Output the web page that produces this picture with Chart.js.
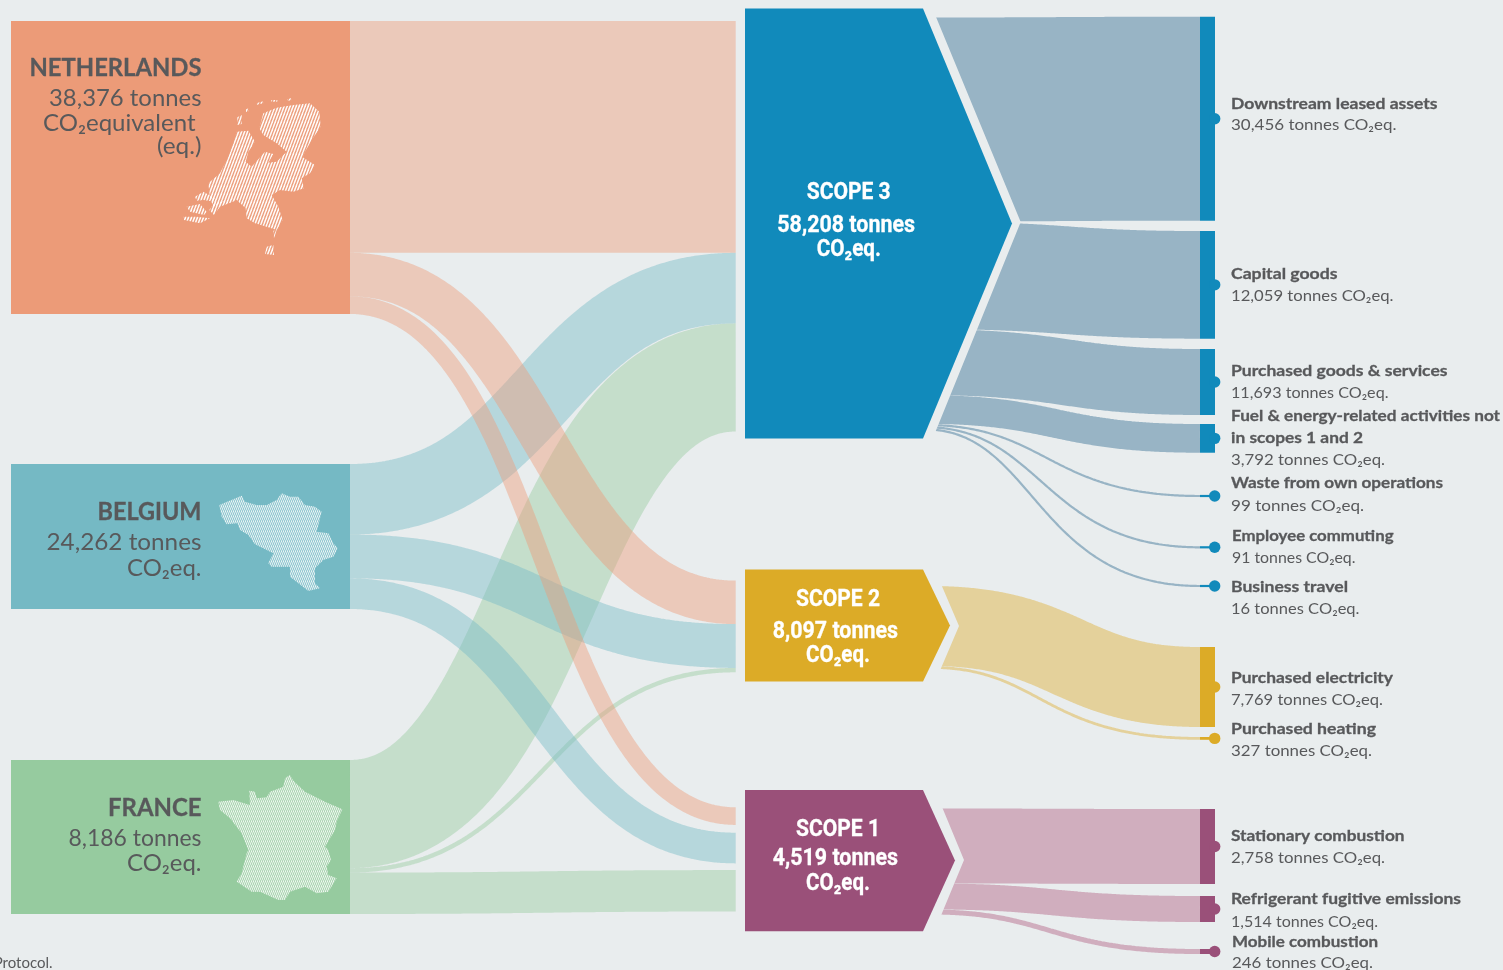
<!DOCTYPE html>
<html>
<head>
<meta charset="utf-8">
<title>Carbon footprint by country and scope</title>
<script src="https://cdn.jsdelivr.net/npm/chart.js@4"></script>
<style>
  html, body { margin: 0; padding: 0; background: #E9EDEE; overflow: hidden; }
  canvas { display: block; }
</style>
</head>
<body>
<canvas id="flows" width="1503" height="970"></canvas>
<script>
// ---- Reported figures (tonnes CO2eq.) ----
const countries = ['NETHERLANDS', 'BELGIUM', 'FRANCE'];
const countryTonnes = [38376, 24262, 8186];
const scopes = ['SCOPE 3', 'SCOPE 2', 'SCOPE 1'];
const scopeTonnes = [58208, 8097, 4519];

// Split of each country's total across scope 3, 2 and 1 (estimated)
const netherlandsFlows = [30370, 5700, 2306];
const belgiumFlows = [11800, 7330, 5132];
const franceFlows = [5750, 234, 2202];

const scope3Categories = ['Downstream leased assets', 'Capital goods', 'Purchased goods & services',
  'Fuel & energy-related activities not in scopes 1 and 2', 'Waste from own operations',
  'Employee commuting', 'Business travel'];
const scope3Values = [30456, 12059, 11693, 3792, 99, 91, 16];
const scope2Categories = ['Purchased electricity', 'Purchased heating'];
const scope2Values = [7769, 327];
const scope1Categories = ['Stationary combustion', 'Refrigerant fugitive emissions', 'Mobile combustion'];
const scope1Values = [2758, 1514, 246];

// ---- Layout: the graphic is not to a single scale, so each block has its own tonnes-per-unit ----
const countryLayout = [
  { top: 21, perUnit: 131, solid: '#EC9B78', band: 'rgba(236,155,120,0.44)', order: 1 },
  { top: 464, perUnit: 167.3, solid: '#75B9C4', band: 'rgba(117,185,196,0.43)', order: 2 },
  { top: 760, perUnit: 53.16, solid: '#96CB9F', band: 'rgba(150,203,159,0.44)', order: 3 }
];
const scopeLayout = [
  { top: 8.6, perUnit: 135.4, tip: 1012, solid: '#118ABB', band: '#98B4C5', inTop: 21, inGaps: [0, 0, 0],
    outTop: 17.5, outStart: 925, bends: [1060, 1065, 1065, 1056, 1048, 1043, 1035],
    edge: [[929, 0], [1020.7, 222], [900, 519], [900, 640]],
    tops: [16.7, 231, 349, 424, 494.9, 546.2, 584.9], perTonne: [149.3, 112, 177.2, 132, 45, 41, 7.3] },
  { top: 569.5, perUnit: 72.3, tip: 950, solid: '#DCAB27', band: '#E4D19B', inTop: 580.6, inGaps: [0, 0, 0],
    outTop: 586, outStart: 930, bends: [1068, 1042],
    edge: [[935, 570], [959, 626], [930, 694], [930, 780]],
    tops: [647, 737], perTonne: [97.1, 117] },
  { top: 790, perUnit: 32, tip: 955, solid: '#9A5079', band: '#D0AEBE', inTop: 807.3, inGaps: [0, 7.8, 6.7],
    outTop: 808.5, outStart: 930, bends: [1055, 1055, 1050],
    edge: [[935, 790], [964, 860], [935, 930], [935, 970]],
    tops: [809, 896, 949], perTonne: [36.8, 58.2, 49] }
];
const COUNTRY_X = [11, 350];
const RIBBON_X = [350, 735.7];
const RIBBON_BEND = 543;
const SCOPE_X = [745, 923];
const BAR_X = [1200, 1215];
const DOT_X = 1214.7;

// ---- Geometry helpers ----
// Samples are packed towards both ends so the butt caps stay vertical
function curve(x0, y0, x1, y1, bend) {
  const pts = [];
  const n = 100;
  for (let i = 0; i <= n; i++) {
    const t = (1 - Math.cos(Math.PI * i / n)) / 2, u = 1 - t;
    pts.push({
      x: u*u*u*x0 + 3*u*u*t*bend + 3*u*t*t*bend + t*t*t*x1,
      y: u*u*u*y0 + 3*u*u*t*y0 + 3*u*t*t*y1 + t*t*t*y1
    });
  }
  return pts;
}
const rect = (x0, x1, y0, y1) => [{x:x0,y:y0},{x:x1,y:y0},{x:x1,y:y1},{x:x0,y:y1},{x:x0,y:y0}];

// A slight tension keeps the line element on its exact path instead of per-pixel merging
const datasets = [];
const stroke = (data, width, color, order, extra) => datasets.push(Object.assign({
  data, showLine: true, pointRadius: 0, borderWidth: width, borderColor: color,
  borderCapStyle: 'butt', borderJoinStyle: 'bevel', tension: 0.01, fill: false, order
}, extra));
const polygon = (data, color, order) => datasets.push({
  data, showLine: true, pointRadius: 0, borderWidth: 0, backgroundColor: color,
  borderColor: color, tension: 0, fill: 'shape', order
});

// Country blocks and their ribbons into each scope
const countryFlows = [netherlandsFlows, belgiumFlows, franceFlows];
const inCursor = scopeLayout.map(s => s.inTop);
countryLayout.forEach((c, ci) => {
  const height = countryTonnes[ci] / c.perUnit;
  polygon(rect(COUNTRY_X[0], COUNTRY_X[1], c.top, c.top + height), c.solid, 10);
  let cursor = c.top;
  countryFlows[ci].forEach((tonnes, si) => {
    const w = tonnes / c.perUnit;
    inCursor[si] += scopeLayout[si].inGaps[ci];
    stroke(curve(RIBBON_X[0], cursor + w / 2, RIBBON_X[1], inCursor[si] + w / 2, RIBBON_BEND), w, c.band, c.order);
    cursor += w;
    inCursor[si] += w;
  });
});

// Scope arrows, outgoing ribbons, end bars and dots
const scopeValues = [scope3Values, scope2Values, scope1Values];
scopeLayout.forEach((s, si) => {
  const height = scopeTonnes[si] / s.perUnit;
  const mid = s.top + height / 2;
  polygon([
    {x:SCOPE_X[0],y:s.top},{x:SCOPE_X[1],y:s.top},{x:s.tip,y:mid},
    {x:SCOPE_X[1],y:s.top+height},{x:SCOPE_X[0],y:s.top+height},{x:SCOPE_X[0],y:s.top}
  ], s.solid, 10);
  let cursor = s.outTop;
  scopeValues[si].forEach((tonnes, i) => {
    const w = tonnes / s.perTonne[i];
    const endY = s.tops[i] + w / 2;
    stroke(curve(s.outStart, cursor + w / 2, BAR_X[0], endY, s.bends[i]), w, s.band, 5, { arrowEdge: s.edge });
    stroke([{x:BAR_X[0],y:endY},{x:BAR_X[1],y:endY}], w, s.solid, 4);
    datasets.push({
      data: [{x:DOT_X,y:endY}], showLine: false, pointRadius: 5.7,
      pointBackgroundColor: s.solid, pointBorderWidth: 0, order: 3.5
    });
    cursor += w;
  });
});

// ---- Map icons: outlines in thirds of a unit from each origin ----
const netherlandsMap = { origin: [0, 10], pattern: 'steep', parts: [
  [710,365,745,362,765,395,745,425,737,455,755,470,795,425,820,432,805,458,830,455,860,425,830,400,790,375,778,355,790,310,830,293,880,285,930,280,958,305,962,350,935,390,915,425,908,442,945,465,930,490,905,505,912,535,880,545,840,540,815,555,835,590,848,630,830,660,800,650,765,640,740,625,737,595,710,570,680,572,640,590,630,565,625,520,660,490,685,440,700,400],
  [585,560,610,545,650,568,645,575,610,570,590,572],
  [560,590,600,582,620,605,612,615,570,605],
  [550,620,590,620,630,625,600,640,552,630],
  [640,582,700,565,706,572,660,590,642,615,628,600],
  [800,710,820,705,822,735,795,732],
  [712,322,725,315,725,342,712,345],
  [820,662,830,660,822,685],
  [768,280,790,274,790,280,768,285],[814,270,832,270,832,275,814,275],[862,268,875,264,875,270,862,273],[738,298,746,295,746,304,738,306]
]};
const belgiumMap = { origin: [0, 455], pattern: 'fine', parts: [
  [658,150,725,122,735,140,770,150,800,150,830,135,845,115,870,125,895,125,915,150,945,155,965,170,950,230,985,235,1000,265,1013,280,1000,305,970,315,945,340,945,385,960,400,925,408,870,365,870,335,815,335,805,325,820,295,765,268,745,240,720,225,712,205,680,208,665,185]
]};
const franceMap = { origin: [0, 750], pattern: 'fine', parts: [
  [870,75,880,92,915,125,945,140,975,155,1027,178,1010,215,1005,240,975,290,985,300,993,330,980,350,985,375,1010,385,985,425,950,430,915,410,870,425,855,450,835,450,780,425,755,425,710,395,725,370,740,310,745,300,725,250,690,205,660,180,655,155,700,150,750,165,748,122,765,125,770,145,800,142,810,125,850,110,855,85]
]};

function hatch(w, h, alpha, lineWidth, ctx) {
  const tile = document.createElement('canvas');
  tile.width = w; tile.height = h;
  const g = tile.getContext('2d');
  g.strokeStyle = 'rgba(255,255,255,' + alpha + ')';
  g.lineWidth = lineWidth;
  for (let k = -1; k <= 1; k++) {
    g.beginPath(); g.moveTo(k * w, h); g.lineTo(k * w + w, 0); g.stroke();
  }
  return ctx.createPattern(tile, 'repeat');
}

// ---- Text ----
const INK = '#58595B';
const HEAD = 'bold 24px Lato', BODY = '24px Lato';
const NAME = 'bold 16px Lato', VALUE = '16px Lato';
const SCOPE_HEAD = 'bold 24px Roboto';
const tonnes = v => v.toLocaleString('en-US');

// [text, left edge, right edge, baseline, font]
const leftLabels = [
  [countries[0], 29.5, 201.5, 75.7, HEAD],
  [tonnes(countryTonnes[0]) + ' tonnes', 49, 201.5, 105.7, BODY],
  ['CO₂equivalent', 43, 195.5, 130.7, BODY],
  ['(eq.)', 157, 201.5, 154, BODY],
  [countries[1], 97.5, 201.5, 520, HEAD],
  [tonnes(countryTonnes[1]) + ' tonnes', 46.5, 201.5, 550, BODY],
  ['CO₂eq.', 127, 201.5, 575.7, BODY],
  [countries[2], 108, 201.5, 816, HEAD],
  [tonnes(countryTonnes[2]) + ' tonnes', 68.5, 201.5, 845.7, BODY],
  ['CO₂eq.', 127, 201.5, 871, BODY]
];
const scopeLabels = [
  [scopes[0], 806.7, 890.7, 199, SCOPE_HEAD],
  [tonnes(scopeTonnes[0]) + ' tonnes', 777.3, 915, 231.7, SCOPE_HEAD],
  ['CO₂eq.', 816.7, 881, 256, SCOPE_HEAD],
  [scopes[1], 796, 880, 606, SCOPE_HEAD],
  [tonnes(scopeTonnes[1]) + ' tonnes', 772.7, 898, 637.7, SCOPE_HEAD],
  ['CO₂eq.', 806, 870, 661.7, SCOPE_HEAD],
  [scopes[2], 796, 880, 836, SCOPE_HEAD],
  [tonnes(scopeTonnes[2]) + ' tonnes', 772.7, 898, 865, SCOPE_HEAD],
  ['CO₂eq.', 806, 870, 889.7, SCOPE_HEAD]
];
const valueText = v => tonnes(v) + ' tonnes CO₂eq.';
const fuelName = scope3Categories[3].split(' not ');
const rightLabels = [
  [scope3Categories[0], 1231, 1437.5, 108.5, NAME],
  [valueText(scope3Values[0]), 1231, 1396.5, 130, VALUE],
  [scope3Categories[1], 1231, 1337.5, 278.5, NAME],
  [valueText(scope3Values[1]), 1231, 1393.5, 301, VALUE],
  [scope3Categories[2], 1231, 1447.5, 375.7, NAME],
  [valueText(scope3Values[2]), 1231, 1388.5, 398, VALUE],
  [fuelName[0] + ' not', 1231, 1500, 421, NAME],
  [fuelName[1], 1231, 1363, 443, NAME],
  [valueText(scope3Values[3]), 1231, 1385, 465, VALUE],
  [scope3Categories[4], 1231, 1443, 488.3, NAME],
  [valueText(scope3Values[4]), 1231, 1364, 511, VALUE],
  [scope3Categories[5], 1232, 1393.5, 540.7, NAME],
  [valueText(scope3Values[5]), 1232, 1355.5, 562.7, VALUE],
  [scope3Categories[6], 1231, 1348, 591.7, NAME],
  [valueText(scope3Values[6]), 1231, 1359.5, 614, VALUE],
  [scope2Categories[0], 1231, 1393, 682.5, NAME],
  [valueText(scope2Values[0]), 1231, 1383, 705, VALUE],
  [scope2Categories[1], 1231, 1376, 733.5, NAME],
  [valueText(scope2Values[1]), 1231, 1372, 756, VALUE],
  [scope1Categories[0], 1231, 1404.5, 841, NAME],
  [valueText(scope1Values[0]), 1231, 1385, 863.3, VALUE],
  [scope1Categories[1], 1231, 1461, 904, NAME],
  [valueText(scope1Values[1]), 1231, 1378, 926.7, VALUE],
  [scope1Categories[2], 1232, 1378, 947.3, NAME],
  [valueText(scope1Values[2]), 1232, 1373, 968.3, VALUE]
];

// Draws a label stretched to its edges; bold faces get a hairline outline for extra weight
function fitted(ctx, label, color) {
  const [text, left, right, base, font] = label;
  ctx.save();
  ctx.font = font;
  ctx.fillStyle = color;
  ctx.strokeStyle = color;
  ctx.lineWidth = 0.3;
  ctx.textAlign = 'left';
  ctx.textBaseline = 'alphabetic';
  ctx.translate(left, base);
  ctx.scale((right - left) / ctx.measureText(text).width, 1);
  ctx.fillText(text, 0, 0);
  if (font.startsWith('bold')) ctx.strokeText(text, 0, 0);
  ctx.restore();
}

// Clips outgoing ribbons to the side of their arrow's chevron
const arrowClip = {
  id: 'arrowClip',
  beforeDatasetDraw(chart, args) {
    const edge = chart.data.datasets[args.index].arrowEdge;
    if (!edge) return;
    const { x, y } = chart.scales;
    const c = chart.ctx;
    c.save();
    c.beginPath();
    edge.forEach((p, i) => c[i ? 'lineTo' : 'moveTo'](x.getPixelForValue(p[0]), y.getPixelForValue(p[1])));
    c.lineTo(x.getPixelForValue(1400), y.getPixelForValue(edge[edge.length - 1][1]));
    c.lineTo(x.getPixelForValue(1400), y.getPixelForValue(edge[0][1]));
    c.closePath();
    c.clip();
  },
  afterDatasetDraw(chart, args) {
    if (chart.data.datasets[args.index].arrowEdge) chart.ctx.restore();
  }
};

// Hatched maps and all labels, on top of the flows
const annotations = {
  id: 'annotations',
  afterDatasetsDraw(chart) {
    const c = chart.ctx;
    const { x, y } = chart.scales;
    const fills = { steep: hatch(3, 8, 0.95, 1.5, c), fine: hatch(2, 5, 0.85, 1.1, c) };
    [netherlandsMap, belgiumMap, franceMap].forEach(map => {
      c.save();
      c.fillStyle = fills[map.pattern];
      map.parts.forEach(part => {
        c.beginPath();
        for (let i = 0; i < part.length; i += 2) {
          const px = x.getPixelForValue(map.origin[0] + part[i] / 3);
          const py = y.getPixelForValue(map.origin[1] + part[i + 1] / 3);
          i ? c.lineTo(px, py) : c.moveTo(px, py);
        }
        c.closePath();
        c.fill();
      });
      c.restore();
    });
    leftLabels.forEach(l => fitted(c, l, INK));
    scopeLabels.forEach(l => fitted(c, l, '#FFFFFF'));
    rightLabels.forEach(l => fitted(c, l, INK));
    c.save();
    c.font = '15px Lato';
    c.fillStyle = INK;
    c.textAlign = 'right';
    c.fillText('Protocol.', 52.5, 967.5);
    c.restore();
  }
};

new Chart(document.getElementById('flows'), {
  type: 'scatter',
  data: { datasets },
  plugins: [arrowClip, annotations],
  options: {
    responsive: false,
    animation: false,
    events: [],
    layout: { padding: 0, autoPadding: false },
    plugins: { legend: { display: false }, tooltip: { enabled: false } },
    scales: {
      x: { type: 'linear', min: 0, max: 1503, display: false },
      y: { type: 'linear', min: 0, max: 970, reverse: true, display: false }
    }
  }
});
</script>
</body>
</html>
